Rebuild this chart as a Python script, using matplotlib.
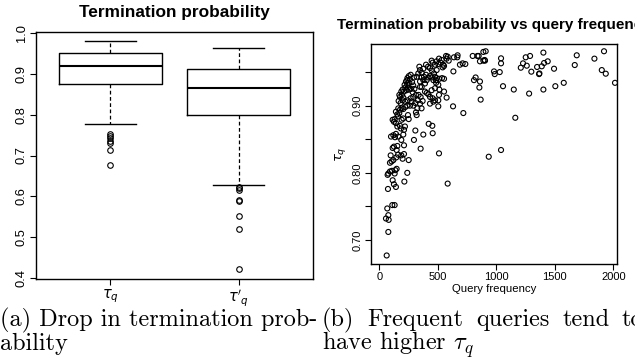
import numpy as np
import matplotlib
matplotlib.use("Agg")
import matplotlib.pyplot as plt

plt.rcParams['font.family'] = ['Liberation Sans', 'DejaVu Sans']
plt.rcParams['mathtext.fontset'] = 'cm'

# left panel: boxplot stats
boxLabels = [r'$\tau_q$', r"$\tau'_q$"]
boxMed = [0.918, 0.865]
boxQ1 = [0.8745, 0.798]
boxQ3 = [0.951, 0.913]
boxWhisLo = [0.776, 0.628]
boxWhisHi = [0.981, 0.962]
boxFliers = [[0.752, 0.748, 0.742, 0.736, 0.730, 0.713, 0.677],
             [0.6235, 0.620, 0.616, 0.591, 0.588, 0.551, 0.520, 0.421]]

# right panel: query frequency vs tau_q
freq = [63, 77, 80, 57, 77, 68, 111, 131, 74, 125, 142, 114, 214, 71, 77, 91, 108, 137, 148, 131,
        239, 91, 105, 120, 97, 145, 160, 188, 211, 199, 251, 125, 114, 148, 154, 211, 188, 100, 120, 142,
        162, 134, 205, 211, 185, 177, 154, 219, 142, 125, 114, 131, 191, 205, 160, 154, 171, 142, 177, 162,
        191, 205, 222, 239, 262, 182, 165, 199, 222, 242, 205, 177, 194, 171, 211, 188, 199, 222, 216, 239,
        228, 239, 251, 245, 256, 234,
        268, 296, 319, 313, 336, 290, 353, 330, 307, 348, 290, 325, 361, 313, 319, 245, 251, 276, 268,
        308, 296, 376, 353, 422, 453, 456, 510, 584, 575, 510, 513, 504, 504, 553, 630, 718, 633,
        342, 348, 333, 362, 382, 399, 419, 433, 447, 405, 376, 348, 390, 362, 376, 399, 416, 433, 450, 467,
        476, 462, 485, 490, 476, 456, 447, 490, 504, 524, 533, 510, 547, 541, 553, 485, 490, 513, 536, 553,
        575, 584, 570, 593, 638, 669, 666, 689, 712, 735,
        798, 838, 849, 889, 860, 889, 900, 809, 823, 860, 855, 866,
        348, 362, 390, 405, 370, 433, 419, 456, 462, 433, 476, 447, 476, 504,
        240, 252, 262, 280, 290, 300, 270, 285,
        909, 903, 1040, 1040, 980, 986, 1029, 1057, 1149, 1162, 1040, 935, 1251, 1288, 1228, 1260, 1209,
        1299, 1348, 1388, 1408, 1439, 1402, 1365, 1368, 1493, 1280, 1402, 1504, 1576, 1687, 1670, 1838,
        1920, 1901, 1935, 2014]
tau = [0.677, 0.712, 0.730, 0.732, 0.737, 0.747, 0.752, 0.752, 0.776, 0.783, 0.779, 0.789, 0.787, 0.797,
       0.799, 0.802, 0.803, 0.804, 0.806, 0.799, 0.800, 0.815, 0.817, 0.819, 0.826, 0.823, 0.827, 0.826,
       0.828, 0.821, 0.819, 0.839, 0.837, 0.834, 0.840, 0.841, 0.849, 0.854, 0.856, 0.858, 0.854, 0.853,
       0.857, 0.864, 0.866, 0.870, 0.869, 0.869, 0.874, 0.876, 0.879, 0.880, 0.879, 0.881, 0.884, 0.887,
       0.889, 0.891, 0.894, 0.896, 0.896, 0.895, 0.898, 0.900, 0.900, 0.904, 0.907, 0.908, 0.906, 0.908,
       0.912, 0.913, 0.916, 0.916, 0.921, 0.921, 0.924, 0.927, 0.931, 0.931, 0.936, 0.938, 0.934, 0.927,
       0.924, 0.923,
       0.946, 0.942, 0.943, 0.916, 0.916, 0.913, 0.913, 0.908, 0.904, 0.903, 0.900, 0.896, 0.896, 0.890,
       0.886, 0.886, 0.880, 0.906, 0.911,
       0.863, 0.849, 0.857, 0.836, 0.873, 0.870, 0.859, 0.829, 0.784, 0.912, 0.916, 0.924, 0.908, 0.899,
       0.921, 0.899, 0.889, 0.951,
       0.958, 0.953, 0.948, 0.942, 0.943, 0.946, 0.942, 0.944, 0.942, 0.938, 0.938, 0.936, 0.933, 0.949,
       0.955, 0.961, 0.958, 0.956, 0.952, 0.948, 0.943, 0.938, 0.938, 0.953, 0.961, 0.964, 0.967, 0.966,
       0.962, 0.964, 0.968, 0.970, 0.961, 0.957, 0.959, 0.934, 0.941, 0.940, 0.941, 0.940,
       0.970, 0.973, 0.974, 0.967, 0.972, 0.975, 0.972, 0.961, 0.963, 0.962,
       0.974, 0.974, 0.974, 0.980, 0.966, 0.967, 0.968, 0.938, 0.942, 0.936, 0.927, 0.909,
       0.928, 0.928, 0.921, 0.919, 0.907, 0.913, 0.917, 0.911, 0.906, 0.903, 0.908, 0.923, 0.926, 0.931,
       0.941, 0.944, 0.939, 0.935, 0.930, 0.925, 0.925, 0.920,
       0.981, 0.967, 0.9705, 0.963, 0.951, 0.947, 0.950, 0.929, 0.924, 0.882, 0.834, 0.824, 0.972, 0.974,
       0.963, 0.9595, 0.9565, 0.9506, 0.9576, 0.9586, 0.9635, 0.966, 0.979, 0.947, 0.948, 0.955, 0.918,
       0.924, 0.929, 0.934, 0.975, 0.9605, 0.970, 0.981, 0.953, 0.9476, 0.934]

W, H = 635, 362
fig = plt.figure(figsize=(W / 100, H / 100), dpi=100)

# ---- left: boxplot
ax1 = fig.add_axes([36 / W, 1 - 279 / H, 277 / W, 247 / H])
stats = []
for i in range(2):
    stats.append(dict(med=boxMed[i], q1=boxQ1[i], q3=boxQ3[i], whislo=boxWhisLo[i],
                      whishi=boxWhisHi[i], fliers=boxFliers[i]))
ax1.bxp(stats, positions=[1, 2], widths=0.8, capwidths=0.4,
        boxprops=dict(color='black', lw=1.0),
        medianprops=dict(color='black', lw=1.5),
        whiskerprops=dict(color='black', lw=0.9, ls=(0, (3, 2))),
        capprops=dict(color='black', lw=1.0),
        flierprops=dict(marker='o', mfc='none', mec='black', ms=4, mew=0.8))
ax1.set_xlim(0.42, 2.58)
ax1.set_ylim(0.3976, 1.0024)
ax1.set_yticks([0.4, 0.5, 0.6, 0.7, 0.8, 0.9, 1.0])
ax1.set_yticklabels(['0.4', '0.5', '0.6', '0.7', '0.8', '0.9', '1.0'], rotation=90, va='center')
ax1.set_xticks([1, 2])
ax1.set_xticklabels(boxLabels)
for lab in ax1.get_xticklabels():
    lab.set_math_fontfamily('dejavusans')
    lab.set_fontsize(10.5)
ax1.tick_params(axis='y', labelsize=9.3)
ax1.tick_params(axis='both', length=4, width=0.8, pad=2)
for s in ax1.spines.values():
    s.set_linewidth(1.0)

# ---- right: scatter
ax2 = fig.add_axes([371 / W, 1 - 264 / H, 246 / W, 220 / H])
ax2.scatter(freq, tau, s=13, facecolors='none', edgecolors='black', linewidths=0.8)
ax2.set_xlim(-71, 2031)
ax2.set_ylim(0.6643, 0.9918)
ax2.set_xticks([0, 500, 1000, 1500, 2000])
ax2.set_yticks([0.70, 0.75, 0.80, 0.85, 0.90, 0.95])
ax2.set_yticklabels(['0.70', '', '0.80', '', '0.90', ''], rotation=90, va='center')
ax2.tick_params(axis='both', labelsize=8, length=4, width=0.8, pad=2)
ax2.set_xlabel('Query frequency', fontsize=8.2, labelpad=1)
yl = ax2.set_ylabel(r'$\tau_q$', fontsize=9.5, labelpad=3)
yl.set_math_fontfamily('dejavusans')
for s in ax2.spines.values():
    s.set_linewidth(1.0)

# titles
fig.text(174.5 / W, 1 - 13 / H, 'Termination probability', ha='center', va='center',
         fontsize=12.4, fontweight='bold')
fig.text(494 / W, 1 - 25 / H, 'Termination probability vs query frequency', ha='center',
         va='center', fontsize=11, fontweight='bold')

# captions (line 1 of (b) is justified, so spread the words evenly)
cap = dict(family='cmr10', fontsize=17.5, va='baseline', ha='left')
fig.text(0 / W, 1 - 326 / H, '(a) Drop in termination prob-', **cap)
fig.text(0 / W, 1 - 350 / H, 'ability', **cap)
fig.text(322 / W, 1 - 350 / H, r'have higher $\tau_q$', **cap)

words = ['(b)', 'Frequent', 'queries', 'tend', 'to']
renderer = fig.canvas.get_renderer()
items = [fig.text(0, 1 - 326 / H, w, **cap) for w in words]
widths = [t.get_window_extent(renderer).width for t in items]
gap = (622 - 322 - sum(widths[:-1])) / (len(words) - 1)
xpos = 322
for t, w in zip(items, widths):
    t.set_x(xpos / W)
    xpos += w + gap

fig.savefig('out.png', dpi=100)
